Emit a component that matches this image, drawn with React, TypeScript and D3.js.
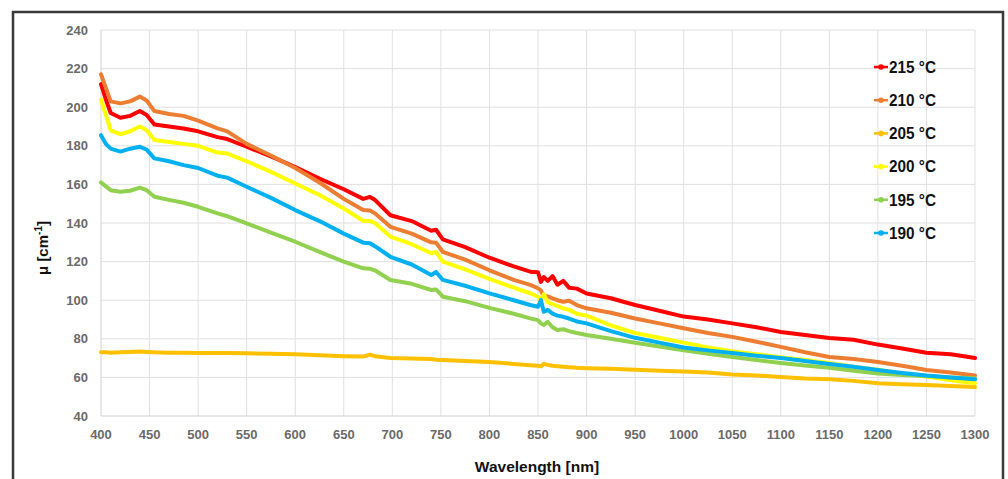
import React from "react";
import * as d3 from "d3";

const wavelengths = [400, 405, 410, 420, 430, 440, 447, 455, 470, 485, 500, 520, 530, 550, 575, 600, 625, 650, 670, 677, 682, 698, 720, 740, 745, 752, 775, 800, 825, 842, 850, 853, 856, 860, 865, 870, 876, 882, 890, 900, 925, 950, 975, 1000, 1025, 1050, 1075, 1100, 1125, 1150, 1175, 1200, 1225, 1250, 1275, 1300];

const s215 = [212, 204, 197, 194.5, 195.5, 198, 196, 191, 190, 189, 187.5, 184.5, 183.5, 179.5, 174.5, 169, 163, 157.5, 152.5, 153.5, 152, 144, 141, 136, 136.5, 131.5, 127.5, 122, 117.5, 114.8, 114.5, 109.5, 112, 110, 112.5, 108, 110, 106.5, 106, 103.5, 101, 97.5, 94.5, 91.5, 90, 88, 86, 83.5, 82, 80.4, 79.5, 77, 75, 72.8, 72, 70];
const s210 = [217, 210, 203, 202, 203, 205.5, 203.5, 198, 196.5, 195.5, 193, 189, 187.5, 181, 175, 168.5, 161, 152.5, 146.7, 146.5, 145, 138, 134.5, 130, 129.8, 125, 121, 115.5, 110.5, 107.9, 106.2, 105, 101.8, 102, 101, 100, 99.2, 99.7, 97.5, 95.8, 93.5, 90.5, 88, 85.5, 83, 81, 78.5, 75.8, 73, 70.6, 69.5, 68, 66, 63.8, 62.5, 61];
const s205 = [73, 73, 72.8, 73, 73.2, 73.4, 73.2, 73, 72.8, 72.8, 72.7, 72.6, 72.6, 72.5, 72.2, 72, 71.5, 71, 70.8, 71.8, 71, 70, 69.8, 69.5, 69.2, 69, 68.5, 68, 67, 66.3, 66, 65.7, 67, 66.5, 66, 65.8, 65.5, 65.3, 65, 64.8, 64.5, 64, 63.5, 63, 62.5, 61.5, 61, 60.2, 59.4, 59, 58.2, 57, 56.5, 56, 55.6, 55];
const s200 = [204, 196, 188, 186, 187.5, 190, 188, 183, 182, 181, 180, 176.5, 176, 172, 166.5, 160.5, 154.5, 147.5, 141.2, 141, 140, 133, 129, 124.3, 125, 120, 116, 111, 106.5, 103.6, 101.8, 100, 103, 99, 98, 97, 95.8, 95, 93, 92, 87, 83, 80.5, 78, 75.5, 73.5, 72, 70.5, 69, 67.5, 65.5, 64, 62, 60.5, 58.5, 57];
const s195 = [161, 159, 157, 156.2, 156.7, 158.3, 157, 153.6, 152, 150.5, 148.4, 145, 143.5, 139.8, 135, 130.3, 125, 120, 116.5, 116.3, 115.5, 110.5, 108.5, 105.3, 105.6, 101.8, 99.5, 96, 93, 90.6, 89.7, 88, 87.1, 88.8, 86, 84.6, 85, 84, 83, 82, 80, 78, 76, 74, 72.3, 70.6, 69, 67.5, 66.2, 65, 63.5, 62, 61.3, 60.7, 60, 59.5];
const s190 = [185.5, 181, 178.5, 177, 178.5, 179.5, 178, 173.5, 172, 170, 168.5, 164.5, 163.5, 158.8, 153, 146.7, 141, 134.5, 129.8, 129.5, 128, 122.5, 118.5, 113, 114.6, 110.5, 107.5, 103.5, 100, 97.5, 96.6, 100, 94, 95, 93, 92, 91.4, 90.5, 89, 88, 84, 80.5, 78, 75.5, 74, 72.6, 71.2, 70, 68.5, 67, 65.5, 63.8, 62.3, 61, 60, 59];

const seriesNames = ["215 °C", "210 °C", "205 °C", "200 °C", "195 °C", "190 °C"];
const seriesValues = [s215, s210, s205, s200, s195, s190];
const seriesColors = ["#FF0000", "#ED7D31", "#FFC000", "#FFFF00", "#92D050", "#00B0F0"];

const xTicks = d3.range(400, 1301, 50);
const yTicks = d3.range(40, 241, 20);

const xTitle = "Wavelength [nm]";

export default function App() {
  const W = 1008, H = 479;
  const left = 101, right = 975, top = 30, bottom = 416;
  const x = d3.scaleLinear().domain([400, 1300]).range([left, right]);
  const y = d3.scaleLinear().domain([40, 240]).range([bottom, top]);
  const line = d3.line<[number, number]>().x(d => x(d[0])).y(d => y(d[1])).curve(d3.curveLinear);
  const font = "'Liberation Sans', Arial, sans-serif";

  return (
    <svg width={W} height={H} style={{ position: "fixed", left: 0, top: 0, background: "#fff" }}>
      <rect x={0} y={0} width={W} height={H} fill="#fff" />
      <rect x={13} y={12} width={990} height={490} fill="none" stroke="#3a3a3a" strokeWidth={2.5} />
      {/* grid */}
      {yTicks.filter(t => t > 40).map(t => (
        <line key={"gy" + t} x1={left} x2={right} y1={y(t)} y2={y(t)} stroke="#e0e0e0" strokeWidth={1} />
      ))}
      {xTicks.filter(t => t > 400).map(t => (
        <line key={"gx" + t} x1={x(t)} x2={x(t)} y1={top} y2={bottom} stroke="#e0e0e0" strokeWidth={1} />
      ))}
      <line x1={left} x2={right} y1={bottom} y2={bottom} stroke="#d0d0d0" strokeWidth={1} />
      <line x1={left} x2={left} y1={top} y2={bottom} stroke="#d0d0d0" strokeWidth={1} />
      {/* tick labels */}
      {yTicks.map(t => (
        <text key={"ty" + t} x={88} y={y(t)} dy="0.35em" textAnchor="end" fontFamily={font} fontWeight="bold" fontSize={13} fill="#6a6a6a">{t}</text>
      ))}
      {xTicks.map(t => (
        <text key={"tx" + t} x={x(t)} y={434} dy="0.35em" textAnchor="middle" fontFamily={font} fontWeight="bold" fontSize={13} fill="#6a6a6a">{t}</text>
      ))}
      {/* series */}
      {seriesValues.map((vals, i) => (
        <path key={"s" + i} d={line(wavelengths.map((w, j) => [w, vals[j]] as [number, number])) || ""} fill="none" stroke={seriesColors[i]} strokeWidth={4} strokeLinejoin="round" strokeLinecap="round" />
      ))}
      {/* legend */}
      {seriesNames.map((n, i) => {
        const ly = 67 + i * 33.2;
        return (
          <g key={"lg" + i}>
            <line x1={874} x2={888} y1={ly} y2={ly} stroke={seriesColors[i]} strokeWidth={2.5} />
            <circle cx={881} cy={ly} r={2.8} fill={seriesColors[i]} />
            <text x={889} y={ly} dy="0.36em" fontFamily={font} fontWeight="bold" fontSize={16} fill="#111" textLength={47} lengthAdjust="spacingAndGlyphs">{n}</text>
          </g>
        );
      })}
      {/* axis titles */}
      <text x={537} y={467} dy="0.35em" textAnchor="middle" fontFamily={font} fontWeight="bold" fontSize={15.5} fill="#111">{xTitle}</text>
      <text transform={`translate(43,248) rotate(-90)`} dy="0.35em" textAnchor="middle" fontFamily={font} fontWeight="bold" fontSize={15} fill="#111">
        μ [cm<tspan dy="-6" fontSize={10}>-1</tspan><tspan dy="6">]</tspan>
      </text>
    </svg>
  );
}
